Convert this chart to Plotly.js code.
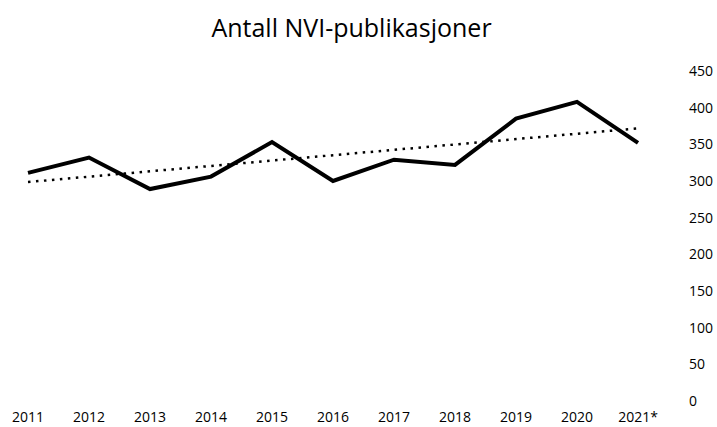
<!DOCTYPE html>
<html>
<head>
<meta charset="utf-8">
<script src="https://cdn.plot.ly/plotly-3.0.1.min.js"></script>
<style>
  html, body { margin: 0; padding: 0; background: #ffffff; }
  #chart { width: 717px; height: 427px; }
</style>
</head>
<body>
<div id="chart"></div>
<script>
// Data
var years = ["2011", "2012", "2013", "2014", "2015", "2016", "2017", "2018", "2019", "2020", "2021*"];
var publications = [311, 332, 289, 306, 353, 300, 329, 322, 385, 408, 352];
var yTicks = [0, 50, 100, 150, 200, 250, 300, 350, 400, 450];

// Linear trendline (least squares) computed from the series
function linearTrend(values) {
  var n = values.length, sx = 0, sy = 0, sxy = 0, sxx = 0;
  for (var i = 0; i < n; i++) { sx += i; sy += values[i]; sxy += i * values[i]; sxx += i * i; }
  var slope = (n * sxy - sx * sy) / (n * sxx - sx * sx);
  var intercept = (sy - slope * sx) / n;
  return values.map(function (_, i) { return intercept + slope * i; });
}
var trend = linearTrend(publications);

var traces = [
  {
    x: years, y: publications, type: "scatter", mode: "lines",
    line: { color: "#000000", width: 4 },
    hoverinfo: "x+y", showlegend: false
  },
  {
    x: years, y: trend, type: "scatter", mode: "lines",
    line: { color: "#000000", width: 2.5, dash: "2.5px,5.5px" },
    hoverinfo: "skip", showlegend: false
  }
];

var layout = {
  width: 717, height: 427,
  paper_bgcolor: "#ffffff", plot_bgcolor: "#ffffff",
  margin: { l: 10, r: 33, t: 71, b: 26 },
  title: {
    text: "Antall NVI-publikasjoner",
    font: { family: "Open Sans", size: 25, color: "#000000" },
    x: 351.5 / 717, xref: "container", xanchor: "center",
    y: 1 - 28 / 427, yref: "container", yanchor: "middle"
  },
  xaxis: {
    type: "category",
    range: [-0.295, 10.754],
    showgrid: false, zeroline: false, showline: false,
    ticks: "outside", ticklen: 3, tickcolor: "rgba(0,0,0,0)",
    tickfont: { family: "Open Sans", size: 14, color: "#000000" }
  },
  yaxis: {
    side: "right",
    range: [0, 450],
    tickvals: yTicks,
    showgrid: false, zeroline: false, showline: false,
    ticks: "",
    ticklabelstandoff: 4,
    tickfont: { family: "Open Sans", size: 14, color: "#000000" }
  },
  showlegend: false
};

Plotly.newPlot("chart", traces, layout, { displayModeBar: false, staticPlot: true });
</script>
</body>
</html>
